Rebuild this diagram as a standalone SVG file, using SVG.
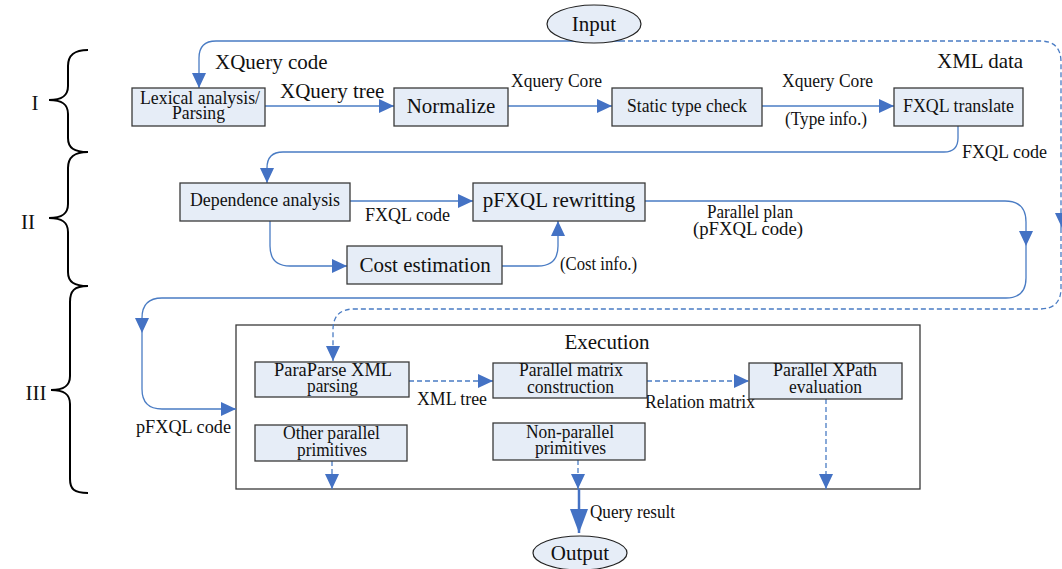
<svg xmlns="http://www.w3.org/2000/svg" width="1062" height="569" viewBox="0 0 1062 569" font-family="'Liberation Serif', 'Times New Roman', 'DejaVu Serif', serif">
<style>
text{fill:#111;}
.t21{font-size:21px;}
.t19{font-size:19px;}
.t17{font-size:18px;}
.mid{text-anchor:middle;}
.box{fill:#E6EDF7;stroke:#3a3a3a;stroke-width:1.3;}
.ell{fill:#E6EDF7;stroke:#222;stroke-width:1.2;}
.frame{fill:#fff;stroke:#3a3a3a;stroke-width:1.3;}
.c{fill:none;stroke:#4A7CC4;stroke-width:1.3;}
.d{fill:none;stroke:#4A7CC4;stroke-width:1.3;stroke-dasharray:5,3;}
.brace{fill:none;stroke:#000;stroke-width:2;}
.ah{fill:#4472C4;}
</style>
<defs>
<marker id="a" markerUnits="userSpaceOnUse" markerWidth="16" markerHeight="14" viewBox="0 0 16 14" refX="15" refY="7" orient="auto"><path d="M0,0 L15,7 L0,14 Z" fill="#4472C4"/></marker>
<marker id="big" markerUnits="userSpaceOnUse" markerWidth="25" markerHeight="18" viewBox="0 0 25 18" refX="24" refY="9" orient="auto"><path d="M0,0 L24,9 L0,18 Z" fill="#4472C4"/></marker>
</defs>

<g id="braces">
<path class="brace" d="M88,50 C74,50 68,55 68,66 L68,86 C68,96 62,100 49,100 C62,100 68,104 68,114 L68,138 C68,148 74,152 88,152"/>
<path class="brace" d="M88,152 C74,152 68,157 68,168 L68,204 C68,214 62,218 49,218 C62,218 68,222 68,232 L68,272 C68,282 74,286 88,286"/>
<path class="brace" d="M88,286 C74,286 70,291 70,302 L70,376 C70,386 64,390 51,390 C64,390 70,394 70,404 L70,479 C70,489 74,493 88,493"/>
<text class="t21 mid" x="35" y="110">I</text>
<text class="t21 mid" x="28" y="229">II</text>
<text class="t21 mid" x="36" y="400">III</text>
</g>

<g id="execution">
<rect class="frame" x="236" y="325" width="684" height="164"/>
<text class="t21 mid" x="607" y="349">Execution</text>
</g>

<g id="connectors">
<path class="c" d="M620,41 L216,41 Q199,41 199,58 L199,88" marker-end="url(#a)"/>
<path class="d" d="M620,41 L1040,41 Q1061,41 1061,62 L1061,228"/>
<path class="d" d="M1061,228 L1061,288 Q1061,309 1040,309 L354,309 Q333,309 333,330 L333,361" marker-end="url(#a)"/>
<polygon class="ah" points="1055,213 1069,213 1062,228"/>
<path class="c" d="M265,106 L394,106" marker-end="url(#a)"/>
<path class="c" d="M508,106 L612,106" marker-end="url(#a)"/>
<path class="c" d="M762,106 L894,106" marker-end="url(#a)"/>
<path class="c" d="M958,126 L958,138 Q958,152 944,152 L283,152 Q267,152 267,168 L267,183" marker-end="url(#a)"/>
<path class="c" d="M350,201 L473,201" marker-end="url(#a)"/>
<path class="c" d="M270,221 L270,246 Q270,266 290,266 L347,266" marker-end="url(#a)"/>
<path class="c" d="M502,266 L538,266 Q558,266 558,246 L558,221" marker-end="url(#a)"/>
<path class="c" d="M645,201 L1005,201 Q1026,201 1026,222 L1026,246" marker-end="url(#a)"/>
<path class="c" d="M1026,246 L1026,278 Q1026,298 1006,298 L162,298 Q142,298 142,318 L142,333" marker-end="url(#a)"/>
<path class="c" d="M142,333 L142,389 Q142,409 162,409 L236,409" marker-end="url(#a)"/>
<path class="d" d="M409,381 L493,381" marker-end="url(#a)"/>
<path class="d" d="M647,381 L749,381" marker-end="url(#a)"/>
<path class="d" d="M332,461 L332,489" marker-end="url(#a)"/>
<path class="d" d="M578,460 L578,489" marker-end="url(#a)"/>
<path class="d" d="M826,399 L826,489" marker-end="url(#a)"/>
<path fill="none" stroke="#4472C4" stroke-width="2.5" d="M579,489 L579,533" marker-end="url(#big)"/>
<text class="t21" x="215" y="69">XQuery code</text>
<text class="t21" x="280" y="98">XQuery tree</text>
<text class="t19" x="511" y="87" textLength="91" lengthAdjust="spacingAndGlyphs">Xquery Core</text>
<text class="t19" x="782" y="87" textLength="91" lengthAdjust="spacingAndGlyphs">Xquery Core</text>
<text class="t19" x="785" y="125" textLength="82" lengthAdjust="spacingAndGlyphs">(Type info.)</text>
<text class="t21" x="937" y="68">XML data</text>
<text class="t19" x="962" y="158" textLength="85" lengthAdjust="spacingAndGlyphs">FXQL code</text>
<text class="t19" x="365" y="221" textLength="85" lengthAdjust="spacingAndGlyphs">FXQL code</text>
<text class="t19" x="560" y="270" textLength="77" lengthAdjust="spacingAndGlyphs">(Cost info.)</text>
<text class="t19" x="707" y="218" textLength="86" lengthAdjust="spacingAndGlyphs">Parallel plan</text>
<text class="t19" x="693" y="235" textLength="110" lengthAdjust="spacingAndGlyphs">(pFXQL code)</text>
<text class="t19" x="136" y="433" textLength="95" lengthAdjust="spacingAndGlyphs">pFXQL code</text>
<text class="t19" x="417" y="405" textLength="70" lengthAdjust="spacingAndGlyphs">XML tree</text>
<text class="t19" x="645" y="408" textLength="110" lengthAdjust="spacingAndGlyphs">Relation matrix</text>
<text class="t19" x="590" y="518" textLength="85" lengthAdjust="spacingAndGlyphs">Query result</text>
</g>

<g id="input">
<ellipse class="ell" cx="594" cy="24" rx="47" ry="19"/>
<text class="t21 mid" x="594" y="31">Input</text>
</g>
<g id="output">
<ellipse class="ell" cx="580" cy="553" rx="47" ry="17"/>
<text class="t21 mid" x="580" y="560">Output</text>
</g>

<g id="lexical">
<rect class="box" x="132" y="88" width="133" height="38"/>
<text class="t17" x="140" y="104" textLength="120" lengthAdjust="spacingAndGlyphs">Lexical analysis/</text>
<text class="t17" x="172" y="119" textLength="53" lengthAdjust="spacingAndGlyphs">Parsing</text>
</g>
<g id="normalize">
<rect class="box" x="394" y="88" width="114" height="38"/>
<text class="t21 mid" x="451" y="113">Normalize</text>
</g>
<g id="static">
<rect class="box" x="612" y="88" width="150" height="38"/>
<text class="t19" x="627" y="112" textLength="120" lengthAdjust="spacingAndGlyphs">Static type check</text>
</g>
<g id="fxql">
<rect class="box" x="894" y="88" width="129" height="38"/>
<text class="t19" x="903" y="112" textLength="111" lengthAdjust="spacingAndGlyphs">FXQL translate</text>
</g>
<g id="dependence">
<rect class="box" x="180" y="183" width="170" height="38"/>
<text class="t19" x="190" y="206" textLength="150" lengthAdjust="spacingAndGlyphs">Dependence analysis</text>
</g>
<g id="pfxql">
<rect class="box" x="473" y="183" width="172" height="38"/>
<text class="t21 mid" x="559" y="207">pFXQL rewritting</text>
</g>
<g id="cost">
<rect class="box" x="347" y="246" width="155" height="38"/>
<text class="t21 mid" x="425" y="272">Cost estimation</text>
</g>
<g id="paraparse">
<rect class="box" x="255" y="362" width="154" height="35"/>
<text class="t17" x="274" y="376" textLength="118" lengthAdjust="spacingAndGlyphs">ParaParse XML</text>
<text class="t17" x="307" y="392" textLength="51" lengthAdjust="spacingAndGlyphs">parsing</text>
</g>
<g id="matrix">
<rect class="box" x="493" y="363" width="154" height="35"/>
<text class="t17" x="519" y="376" textLength="104" lengthAdjust="spacingAndGlyphs">Parallel matrix</text>
<text class="t17" x="527" y="393" textLength="87" lengthAdjust="spacingAndGlyphs">construction</text>
</g>
<g id="xpath">
<rect class="box" x="749" y="363" width="153" height="36"/>
<text class="t17" x="773" y="376" textLength="104" lengthAdjust="spacingAndGlyphs">Parallel XPath</text>
<text class="t17" x="789" y="393" textLength="73" lengthAdjust="spacingAndGlyphs">evaluation</text>
</g>
<g id="other">
<rect class="box" x="255" y="425" width="152" height="36"/>
<text class="t17" x="283" y="439" textLength="97" lengthAdjust="spacingAndGlyphs">Other parallel</text>
<text class="t17" x="297" y="456" textLength="70" lengthAdjust="spacingAndGlyphs">primitives</text>
</g>
<g id="nonparallel">
<rect class="box" x="493" y="423" width="152" height="37"/>
<text class="t17" x="526" y="438" textLength="88" lengthAdjust="spacingAndGlyphs">Non-parallel</text>
<text class="t17" x="535" y="454" textLength="71" lengthAdjust="spacingAndGlyphs">primitives</text>
</g>
</svg>
